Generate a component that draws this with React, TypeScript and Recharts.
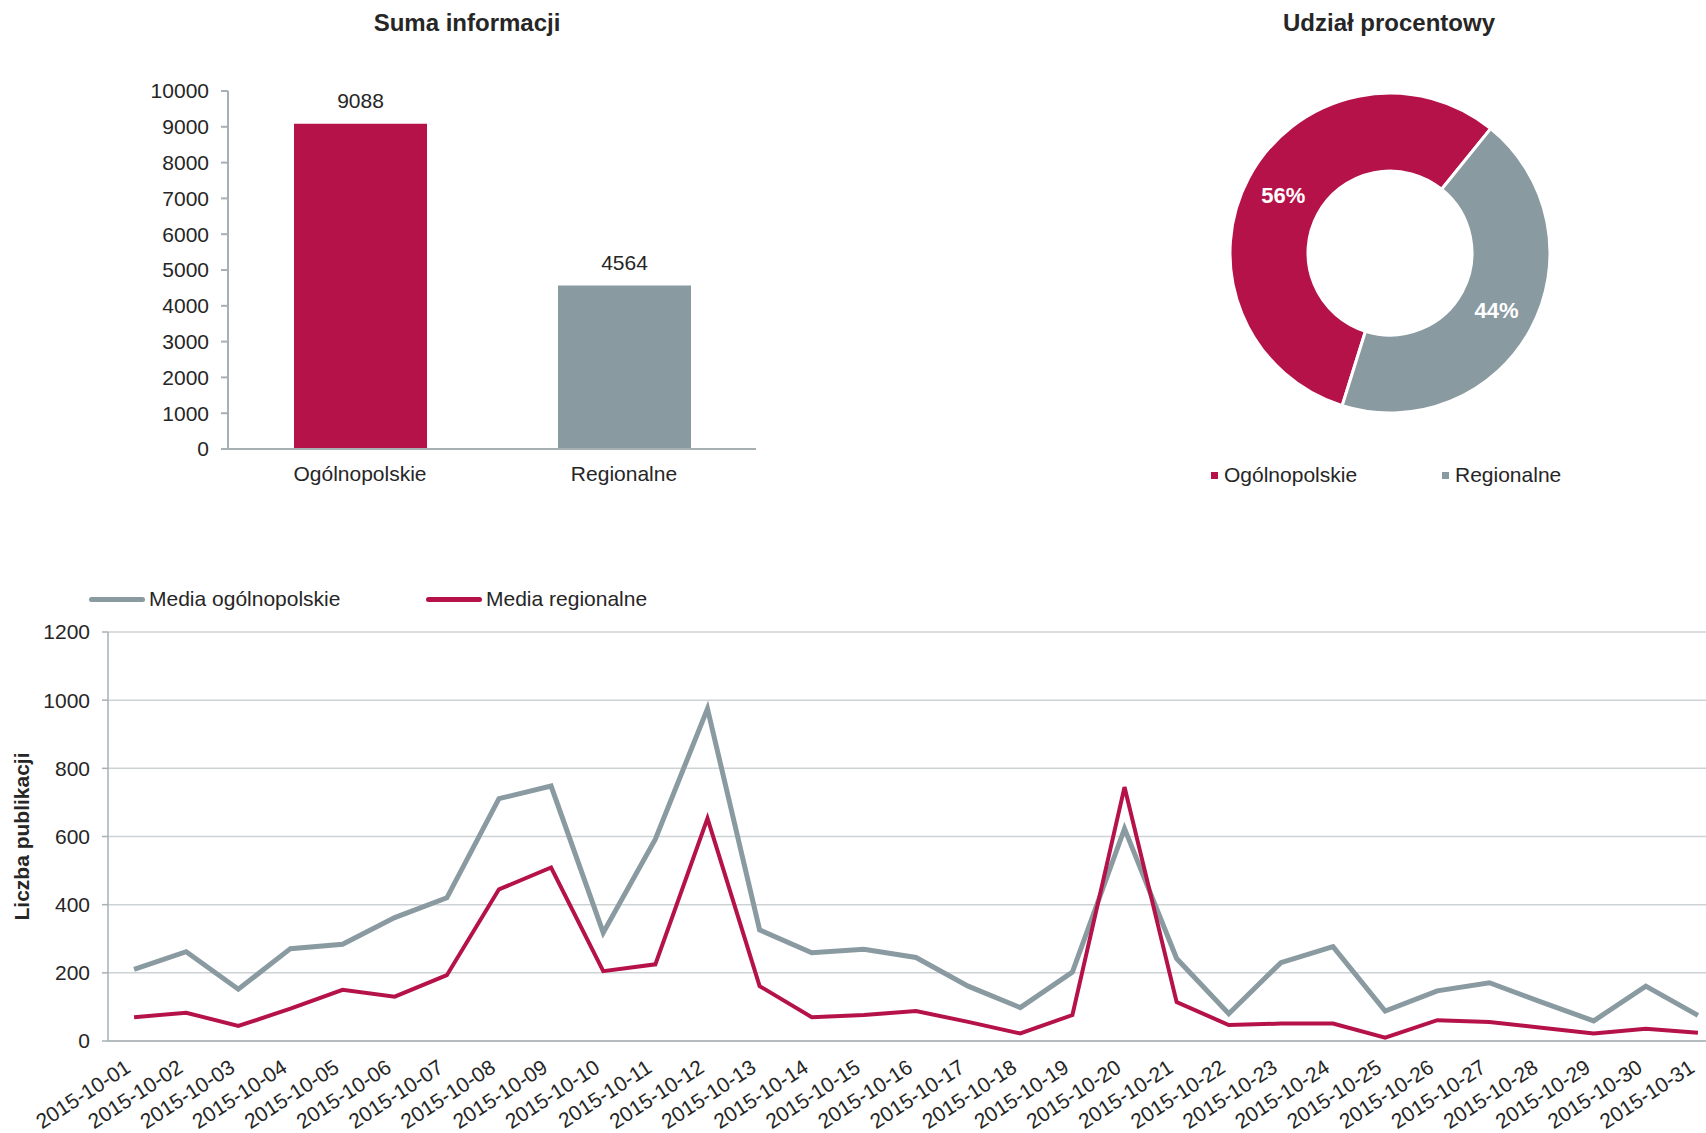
import React from "react"
import {
  BarChart, Bar, Cell, LabelList, XAxis, YAxis, PieChart, Pie, Legend,
  LineChart, Line, CartesianGrid,
} from "recharts"

const RED = "#b5124a"
const GRAY = "#8a9aa1"
const AXIS = "#a7b0b5"
const GRID = "#cdd2d5"
const TEXT = "#262626"
const FONT = '"Liberation Sans", Arial, Helvetica, sans-serif'

// bar chart: totals
const categories = ["Ogólnopolskie", "Regionalne"]
const totals = [9088, 4564]
const barTicks = [0, 1000, 2000, 3000, 4000, 5000, 6000, 7000, 8000, 9000, 10000]

// donut: percent share
const shareNames = ["Ogólnopolskie", "Regionalne"]
const shares = [56, 44]

// daily publications
const dates = [
  "2015-10-01", "2015-10-02", "2015-10-03", "2015-10-04", "2015-10-05", "2015-10-06",
  "2015-10-07", "2015-10-08", "2015-10-09", "2015-10-10", "2015-10-11", "2015-10-12",
  "2015-10-13", "2015-10-14", "2015-10-15", "2015-10-16", "2015-10-17", "2015-10-18",
  "2015-10-19", "2015-10-20", "2015-10-21", "2015-10-22", "2015-10-23", "2015-10-24",
  "2015-10-25", "2015-10-26", "2015-10-27", "2015-10-28", "2015-10-29", "2015-10-30",
  "2015-10-31",
]
const national = [
  210, 262, 152, 271, 284, 362, 420, 711, 748, 318, 592, 975, 326, 259, 269, 245,
  161, 98, 202, 623, 242, 80, 230, 277, 88, 147, 171, 114, 59, 161, 75,
]
const regional = [
  70, 83, 44, 95, 150, 130, 193, 445, 509, 205, 225, 653, 161, 70, 76, 88,
  56, 22, 76, 745, 114, 47, 51, 51, 10, 61, 56, 39, 22, 36, 24,
]
const lineTicks = [0, 200, 400, 600, 800, 1000, 1200]
const seriesNames = { national: "Media ogólnopolskie", regional: "Media regionalne" }

const barData = categories.map((name, i) => ({ name, value: totals[i] }))
const barColors = [RED, GRAY]
const pieData = shareNames.map((name, i) => ({ name, value: shares[i] }))
const lineData = dates.map((date, i) => ({ date, national: national[i], regional: regional[i] }))
const bandEdges = Array.from({ length: dates.length + 1 }, (_, i) => i)

const RADIAN = Math.PI / 180

function PieLabel({ cx, cy, midAngle, innerRadius, outerRadius, value }: any) {
  const r = (innerRadius + outerRadius) / 2
  const x = cx + r * Math.cos(-midAngle * RADIAN)
  const y = cy + r * Math.sin(-midAngle * RADIAN)
  return (
    <text x={x} y={y} fill="#fff" fontSize={22} fontWeight="bold" textAnchor="middle" dominantBaseline="central">
      {value}%
    </text>
  )
}

function PieLegend({ payload }: any) {
  return (
    <div style={{ display: "flex", fontSize: 21, color: TEXT, fontFamily: FONT }}>
      {(payload || []).map((p: any) => (
        <div key={p.value} style={{ width: 231, display: "flex", alignItems: "center" }}>
          <span style={{ width: 7, height: 7, background: p.color, marginRight: 6 }} />
          <span>{p.value}</span>
        </div>
      ))}
    </div>
  )
}

function LineLegend({ payload }: any) {
  return (
    <div style={{ display: "flex", fontSize: 21, color: TEXT, fontFamily: FONT }}>
      {(payload || []).map((p: any) => (
        <div key={p.value} style={{ width: 337, display: "flex", alignItems: "center" }}>
          <span style={{ width: 56, height: 5, borderRadius: 3, background: p.color, marginRight: 4 }} />
          <span>{p.value}</span>
        </div>
      ))}
    </div>
  )
}

function DateTick({ x, y, payload }: any) {
  const ax = x - 2
  const ay = y + 30
  return (
    <text x={ax} y={ay} transform={`rotate(-33, ${ax}, ${ay})`} textAnchor="end" fontSize={21} fill={TEXT}>
      {payload.value}
    </text>
  )
}

const titleStyle: React.CSSProperties = {
  position: "absolute", fontSize: 24, fontWeight: "bold", color: TEXT,
  transform: "translateX(-50%)", whiteSpace: "nowrap", lineHeight: "24px",
}

export default function App() {
  return (
    <div style={{ position: "fixed", left: 0, top: 0, width: 1706, height: 1133, overflow: "hidden", background: "#fff", fontFamily: FONT }}>
      <div style={{ ...titleStyle, left: 467, top: 11 }}>Suma informacji</div>
      <div style={{ ...titleStyle, left: 1389, top: 11 }}>Udział procentowy</div>

      <div style={{ position: "absolute", left: 0, top: 0 }}>
        <BarChart width={800} height={520} data={barData} margin={{ top: 91, right: 44, left: 0, bottom: 21 }}>
          <XAxis xAxisId="edge" type="number" domain={[0, 2]} ticks={[0, 1, 2]} height={0} interval={0}
            allowDataOverflow axisLine={false} tickLine={{ stroke: AXIS, strokeWidth: 2 }} tickSize={7} tick={() => <g />} />
          <XAxis dataKey="name" height={50} interval={0} axisLine={{ stroke: AXIS, strokeWidth: 2 }} tickLine={false}
            tickSize={0} tickMargin={17} tick={{ fontSize: 21, fill: TEXT }} />
          <YAxis width={228} domain={[0, 10000]} ticks={barTicks} interval={0} axisLine={{ stroke: AXIS, strokeWidth: 2 }}
            tickLine={{ stroke: AXIS, strokeWidth: 2 }} tickSize={7} tickMargin={12} tick={{ fontSize: 21, fill: TEXT }} />
          <Bar dataKey="value" barSize={133} isAnimationActive={false}>
            {barData.map((d, i) => <Cell key={d.name} fill={barColors[i]} />)}
            <LabelList dataKey="value" position="top" offset={16} style={{ fontSize: 21, fill: TEXT }} />
          </Bar>
        </BarChart>
      </div>

      <div style={{ position: "absolute", left: 1150, top: 0 }}>
        <PieChart width={556} height={500} margin={{ top: 0, right: 0, left: 0, bottom: 0 }}>
          <Pie data={pieData} dataKey="value" nameKey="name" cx={240} cy={253} innerRadius={82} outerRadius={160}
            startAngle={51} endAngle={411} stroke="#fff" strokeWidth={3} label={PieLabel} labelLine={false} isAnimationActive={false}>
            {pieData.map((d, i) => <Cell key={d.name} fill={barColors[i]} />)}
          </Pie>
          <Legend layout="horizontal" verticalAlign="middle" align="center" content={PieLegend}
            wrapperStyle={{ top: 463, left: 61, width: 480 }} />
        </PieChart>
      </div>

      <div style={{ position: "absolute", left: 0, top: 560 }}>
        <LineChart width={1730} height={573} data={lineData} margin={{ top: 72, right: 6, left: 0, bottom: 2 }}>
          <CartesianGrid vertical={false} stroke={GRID} strokeWidth={1.5} />
          <XAxis xAxisId="edge" type="number" domain={[0, dates.length]} ticks={bandEdges} height={0} interval={0}
            allowDataOverflow axisLine={false} tickLine={{ stroke: AXIS, strokeWidth: 1.5 }} tickSize={7} tick={() => <g />} />
          <XAxis dataKey="date" scale="band" height={90} interval={0} axisLine={{ stroke: AXIS, strokeWidth: 1.5 }}
            tickLine={false} tickSize={0} tickMargin={0} tick={<DateTick />} />
          <YAxis width={108} domain={[0, 1200]} ticks={lineTicks} interval={0} axisLine={{ stroke: AXIS, strokeWidth: 1.5 }}
            tickLine={{ stroke: AXIS, strokeWidth: 1.5 }} tickSize={6} tickMargin={12} tick={{ fontSize: 21, fill: TEXT }}
            label={{ value: "Liczba publikacji", angle: -90, position: "center", dx: -32, style: { fontSize: 21, fontWeight: "bold", fill: TEXT } }} />
          <Legend layout="horizontal" verticalAlign="middle" align="center" content={LineLegend}
            wrapperStyle={{ top: 27, left: 89, width: 700 }} />
          <Line dataKey="national" name={seriesNames.national} type="linear" stroke={GRAY} strokeWidth={5} dot={false} isAnimationActive={false} />
          <Line dataKey="regional" name={seriesNames.regional} type="linear" stroke={RED} strokeWidth={4} dot={false} isAnimationActive={false} />
        </LineChart>
      </div>
    </div>
  )
}
